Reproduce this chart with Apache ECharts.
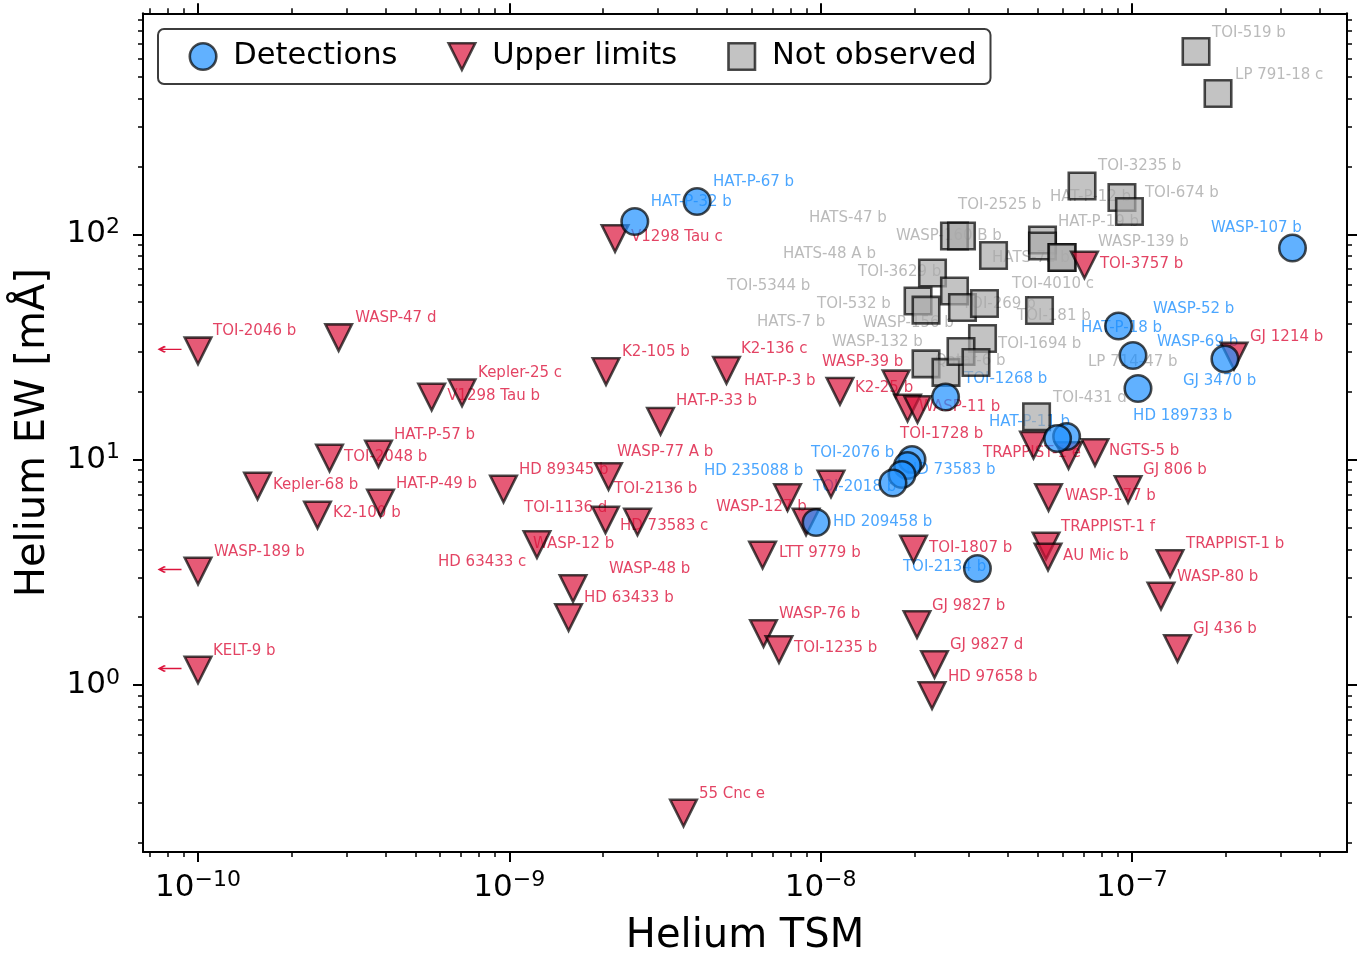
<!DOCTYPE html>
<html>
<head>
<meta charset="utf-8">
<script src="https://cdn.jsdelivr.net/npm/echarts@6/dist/echarts.min.js"></script>
<style>
html,body{margin:0;padding:0;background:#ffffff;}
#chart{width:1358px;height:955px;}
</style>
</head>
<body>
<div id="chart"></div>
<script>
// ---------------- data ----------------
const detNames = ['HAT-P-67 b','HAT-P-32 b','WASP-107 b','WASP-52 b','HAT-P-18 b','WASP-69 b','GJ 3470 b','HD 189733 b','TOI-1268 b','HAT-P-11 b','TOI-2076 b','HD 73583 b','HD 235088 b','TOI-2018 b','HD 209458 b','TOI-2134 b'];
const detTSM = [4.01e-9,2.53e-9,3.28e-7,9.06e-8,1.008e-7,1.99e-7,1.046e-7,6.17e-8,2.52e-8,5.77e-8,1.966e-8,1.902e-8,1.826e-8,1.708e-8,9.67e-9,3.19e-8];
const detEW = [139.8,114.0,87.0,39.2,29.0,28.0,20.7,12.67,18.97,12.41,10.02,9.42,8.59,7.88,5.26,3.29];

const ulNames = ['TOI-2046 b','WASP-47 d','Kepler-25 c','V1298 Tau b','HAT-P-57 b','TOI-2048 b','Kepler-68 b','HAT-P-49 b','K2-100 b','WASP-189 b','KELT-9 b','HD 89345 b','WASP-77 A b','TOI-1136 d','HD 73583 c','WASP-12 b','WASP-48 b','HD 63433 b','V1298 Tau c','K2-105 b','K2-136 c','HAT-P-33 b','HAT-P-3 b','WASP-39 b','K2-25 b','WASP-11 b','TOI-1728 b','WASP-127 b','TOI-2136 b','LTT 9779 b','WASP-76 b','TOI-1235 b','55 Cnc e','TOI-1807 b','GJ 9827 b','GJ 9827 d','HD 97658 b','WASP-177 b','TRAPPIST-1 f','AU Mic b','GJ 806 b','NGTS-5 b','TRAPPIST-1 e','HD 63433 c','TRAPPIST-1 b','WASP-80 b','GJ 436 b','GJ 1214 b','TOI-3757 b'];
const ulTSM = [1.00e-10,2.83e-10,7.05e-10,5.63e-10,3.80e-10,2.645e-10,1.553e-10,3.857e-10,2.42e-10,1.00e-10,1.00e-10,9.58e-10,2.083e-9,2.037e-9,2.581e-9,1.227e-9,1.602e-9,1.550e-9,2.186e-9,2.045e-9,4.985e-9,3.06e-9,1.154e-8,1.747e-8,1.902e-8,2.048e-8,1.080e-8,8.98e-9,7.83e-9,6.51e-9,6.555e-9,7.35e-9,3.627e-9,1.988e-8,2.040e-8,2.322e-8,2.280e-8,5.397e-8,5.299e-8,5.377e-8,9.72e-8,7.61e-8,6.258e-8,4.83e-8,1.326e-7,1.24e-7,1.401e-7,2.128e-7,7.04e-8];
const ulEW = [30.4,34.8,19.8,18.97,10.6,10.17,7.64,6.42,5.68,3.205,1.166,7.41,8.42,5.40,5.29,4.20,2.68,1.993,95.8,24.6,24.9,14.8,20.1,21.7,16.95,16.7,7.80,5.29,6.79,3.775,1.692,1.437,0.2704,4.013,1.856,1.233,0.898,6.79,4.14,3.698,7.37,10.76,10.43,11.6,3.461,2.483,1.452,28.8,73.1];

const noNames = ['TOI-519 b','LP 791-18 c','TOI-3235 b','HAT-P-12 b','TOI-674 b','HATS-47 b','WASP-160 B b','HATS-72 b','TOI-2525 b','HAT-P-19 b','WASP-139 b','TOI-3629 b','HATS-48 A b','TOI-532 b','TOI-5344 b','WASP-156 b','TOI-269 b','TOI-181 b','TOI-1694 b','HATS-7 b','WASP-132 b','Qatar-6 b','LP 714-47 b','TOI-431 d','TOI-4010 c'];
const noTSM = [1.607e-7,1.891e-7,6.915e-8,9.29e-8,9.82e-8,2.692e-8,2.835e-8,3.593e-8,5.162e-8,5.162e-8,5.964e-8,2.288e-8,2.056e-8,2.181e-8,2.692e-8,2.856e-8,3.36e-8,5.049e-8,3.312e-8,2.181e-8,2.528e-8,2.825e-8,3.156e-8,4.94e-8,5.964e-8];
const noEW = [647.5,421.4,163.8,145.6,126.2,98.3,98.3,80.5,94.3,88.7,78.9,67.3,50.6,46.1,56.0,47.3,49.3,45.9,34.5,26.6,24.4,30.2,27.0,15.5,78.9];

// planets whose TSM is only an upper bound (arrow to the left)
const tsmLimitNames = ['TOI-2046 b','WASP-189 b','KELT-9 b'];

// axis ticks (exponents)
const xMajorExp = [-10,-9,-8,-7];
const yMajorExp = [0,1,2];

// ---------------- layout (label placement in pixels) ----------------
const labelOffset = {
 'TOI-2046 b':[15,-20],'WASP-47 d':[16.5,-19.5],'Kepler-25 c':[16,-20],'V1298 Tau b':[15.5,-1],'HAT-P-57 b':[15.5,-19],
 'TOI-2048 b':[14.5,-1],'Kepler-68 b':[15.5,-1],'HAT-P-49 b':[15.5,-19],'K2-100 b':[15.5,-2],'WASP-189 b':[16,-19],
 'KELT-9 b':[15,-19],'HD 89345 b':[15.5,-19],'WASP-77 A b':[8.5,-24.5],'TOI-1136 d':[-81.5,-12],'HD 73583 c':[-17.5,4],
 'WASP-12 b':[-4,0],'WASP-48 b':[36,-19.5],'HD 63433 b':[15.5,-19.5],'V1298 Tau c':[16,-1.5],'K2-105 b':[16,-19.5],
 'K2-136 c':[14.5,-21.5],'HAT-P-33 b':[15.5,-20],'HAT-P-3 b':[-96,-10.5],'WASP-39 b':[-74,-22],'K2-25 b':[-52.5,-20],
 'WASP-11 b':[1.5,-2.5],'TOI-1728 b':[69,-50],'WASP-127 b':[-90,-15],'TOI-2136 b':[-173.5,-8.5],'LTT 9779 b':[16.5,-2],
 'WASP-76 b':[15.5,-19.5],'TOI-1235 b':[15,-1.5],'55 Cnc e':[15.5,-19],'TOI-1807 b':[15.5,-1],'GJ 9827 b':[15,-18.5],
 'GJ 9827 d':[15.5,-19.5],'HD 97658 b':[16,-18.5],'WASP-177 b':[16.5,-1.5],'TRAPPIST-1 f':[15,-19],'AU Mic b':[15,-1],
 'GJ 806 b':[15,-19.5],'NGTS-5 b':[14,-1.5],'TRAPPIST-1 e':[-85.5,-2.5],'HD 63433 c':[-595.5,117],'TRAPPIST-1 b':[16,-19.5],
 'WASP-80 b':[16,-19],'GJ 436 b':[15.5,-19.5],'GJ 1214 b':[16,-19],'TOI-3757 b':[15.5,-1],
 'HAT-P-67 b':[16,-19.5],'HAT-P-32 b':[16,-19.5],'WASP-107 b':[-81.5,-20],'WASP-52 b':[34.5,-17],'HAT-P-18 b':[-52,-27.5],
 'WASP-69 b':[-68,-17],'GJ 3470 b':[45,-7.5],'HD 189733 b':[66.5,-20.5],'TOI-1268 b':[18.5,-18],'HAT-P-11 b':[-68.5,-16.5],
 'TOI-2076 b':[-101,-6.5],'HD 73583 b':[-1.5,4.5],'HD 235088 b':[-198,-3.5],'TOI-2018 b':[-80,4],'HD 209458 b':[17,-0.5],
 'TOI-2134 b':[-74.5,-1.5],
 'TOI-519 b':[16,-18.5],'LP 791-18 c':[17,-18.5],'TOI-3235 b':[16,-20],'HAT-P-12 b':[-72,-0.5],'TOI-674 b':[15.5,-18.5],
 'HATS-47 b':[-145.5,-18],'WASP-160 B b':[-65.5,0],'HATS-72 b':[-1.5,2.5],'TOI-2525 b':[-84.5,-35],'HAT-P-19 b':[15.5,-24],
 'WASP-139 b':[36,-15.5],'TOI-3629 b':[-74.5,-1],'HATS-48 A b':[-135,-47],'TOI-532 b':[-109,-6],'TOI-5344 b':[-227.5,-5],
 'WASP-156 b':[-99.5,15.5],'TOI-269 b':[-22.5,0.5],'TOI-181 b':[-22.5,5.5],'TOI-1694 b':[15.5,5.5],'HATS-7 b':[-169,-42],
 'WASP-132 b':[-114,-30.5],'Qatar-6 b':[-26,9.5],'LP 714-47 b':[112,-0.5],'TOI-431 d':[16.5,-19],'TOI-4010 c':[-50,26.5]
};

const FONT = 'DejaVu Sans';
const C_DET = '#1E90FF', C_UL = '#DC143C', C_NO = '#A9A9A9';
const X_MIN = -10.1767, X_MAX = -6.3090, Y_MIN = -0.7411, Y_MAX = 2.9807;

function logPts(tsm, ew){ return tsm.map((t,i)=>[Math.log10(t), Math.log10(ew[i])]); }
function minorList(lo, hi){
  const r=[];
  for(let n=Math.floor(lo)-1;n<=Math.ceil(hi);n++){
    for(let k=2;k<=9;k++){ const v=n+Math.log10(k); if(v>lo && v<hi) r.push(v); }
  }
  return r;
}
const xMinor = minorList(X_MIN, X_MAX);
const yMinor = minorList(Y_MIN, Y_MAX);

function supFmt(v){
  const e = Math.round(v);
  return '{b|10}{s|' + (e<0 ? '\u2212'+(-e) : String(e)) + '}';
}
const richSup = {
  b:{fontSize:31,fontFamily:FONT,color:'#000',lineHeight:36},
  s:{fontSize:22,fontFamily:FONT,color:'#000',verticalAlign:'top',lineHeight:22}
};

function makeAxis(dim, pos, vals, len, w, label, line){
  const ax = {
    type:'value', gridIndex:0, position:pos,
    min: dim==='x'?X_MIN:Y_MIN, max: dim==='x'?X_MAX:Y_MAX,
    splitLine:{show:false},
    axisLine:{show:line, onZero:false, lineStyle:{color:'#000',width:2}},
    axisTick:{show:true, inside:false, length:len, customValues:vals, lineStyle:{color:'#000',width:w}},
    axisLabel:{show:!!label, customValues:vals}
  };
  if(label){
    ax.axisLabel = {show:true, customValues:vals, formatter:supFmt, rich:richSup, margin: dim==='x'?17.5:23};
  }
  return ax;
}

const xAxes = [
  Object.assign(makeAxis('x','bottom',xMajorExp,10,2,true,true),
    {name:'Helium TSM', nameLocation:'middle', nameGap:65,
     nameTextStyle:{fontSize:40,fontFamily:FONT,color:'#000'}}),
  makeAxis('x','bottom',xMinor,5,1.5,false,false),
  makeAxis('x','top',xMajorExp,10,2,false,true),
  makeAxis('x','top',xMinor,5,1.5,false,false)
];
const yAxes = [
  Object.assign(makeAxis('y','left',yMajorExp,10,2,true,true),
    {name:'Helium EW [mÅ]', nameLocation:'middle', nameGap:89, nameRotate:90,
     nameTextStyle:{fontSize:40,fontFamily:FONT,color:'#000'}}),
  makeAxis('y','left',yMinor,5,1.5,false,false),
  makeAxis('y','right',yMajorExp,10,2,false,true),
  makeAxis('y','right',yMinor,5,1.5,false,false)
];

const markerStyle = (c)=>({color:c, borderColor:'#000', borderWidth:2.6, opacity:0.7});

function labelItems(names, tsm, ew, color){
  return names.map((n,i)=>{
    const off = labelOffset[n] || [15.5,-19.5];
    return {
      name:n, value:[Math.log10(tsm[i]), Math.log10(ew[i])],
      label:{show:true, formatter:n, position:'inside', align:'left', verticalAlign:'middle',
             offset:off, color:color, fontSize:15, fontFamily:FONT}
    };
  });
}

const arrowData = tsmLimitNames.map(n=>{
  const i = ulNames.indexOf(n);
  return [Math.log10(ulTSM[i]), Math.log10(ulEW[i])];
});

const triPath = 'path://M0,0L20,0L10,20Z';
const arrowPath = 'path://M0,6.5L6.6,0L8.6,2L4.6,5.2L24,5.2L24,7.8L4.6,7.8L8.6,11L6.6,13Z';

const option = {
  animation:false,
  backgroundColor:'#ffffff',
  grid:{left:143, top:13.3, width:1204, height:838.7, containLabel:false, outerBoundsMode:'none'},
  xAxis:xAxes,
  yAxis:yAxes,
  legend:{
    left:158, top:29, orient:'horizontal', z:20,
    itemWidth:26.5, itemHeight:26.5, itemGap:50, symbolKeepAspect:true,
    padding:[12,14,12,30.5], backgroundColor:'#ffffff', borderColor:'#3c3c3c', borderWidth:2, borderRadius:6,
    formatter:function(n){ return '{g|}' + '{t|' + n + '}'; },
    textStyle:{fontSize:30.5, fontFamily:FONT, color:'#000',
      rich:{g:{width:12}, t:{fontSize:30.5, fontFamily:FONT, color:'#000'}}},
    selectedMode:false,
    data:[
      {name:'Detections', icon:'circle', itemStyle:markerStyle(C_DET)},
      {name:'Upper limits', icon:triPath, itemStyle:markerStyle(C_UL)},
      {name:'Not observed', icon:'rect', itemStyle:markerStyle(C_NO)}
    ]
  },
  series:[
    {name:'labels-gray', type:'scatter', z:1, silent:true, symbol:'circle', symbolSize:1,
     itemStyle:{color:'rgba(0,0,0,0)'}, data:labelItems(noNames,noTSM,noEW,C_NO)},
    {name:'labels-red', type:'scatter', z:1, silent:true, symbol:'circle', symbolSize:1,
     itemStyle:{color:'rgba(0,0,0,0)'}, data:labelItems(ulNames,ulTSM,ulEW,C_UL)},
    {name:'labels-blue', type:'scatter', z:1, silent:true, symbol:'circle', symbolSize:1,
     itemStyle:{color:'rgba(0,0,0,0)'}, data:labelItems(detNames,detTSM,detEW,C_DET)},
    {name:'Not observed', type:'scatter', z:2, silent:true, symbol:'rect', symbolSize:26.5,
     itemStyle:markerStyle(C_NO), data:logPts(noTSM,noEW)},
    {name:'Upper limits', type:'scatter', z:3, silent:true, symbol:'triangle', symbolRotate:180, symbolSize:26.5,
     itemStyle:markerStyle(C_UL), data:logPts(ulTSM,ulEW)},
    {name:'Detections', type:'scatter', z:4, silent:true, symbol:'circle', symbolSize:26.5,
     itemStyle:markerStyle(C_DET), data:logPts(detTSM,detEW)},
    {name:'tsm-limit-arrows', type:'scatter', z:5, silent:true, symbol:arrowPath, symbolSize:[24,13],
     symbolKeepAspect:true, symbolOffset:[-28.5,-1.5], itemStyle:{color:C_UL, opacity:1}, data:arrowData}
  ]
};

const chart = echarts.init(document.getElementById('chart'), null, {renderer:'canvas'});
chart.setOption(option);
</script>
</body>
</html>
